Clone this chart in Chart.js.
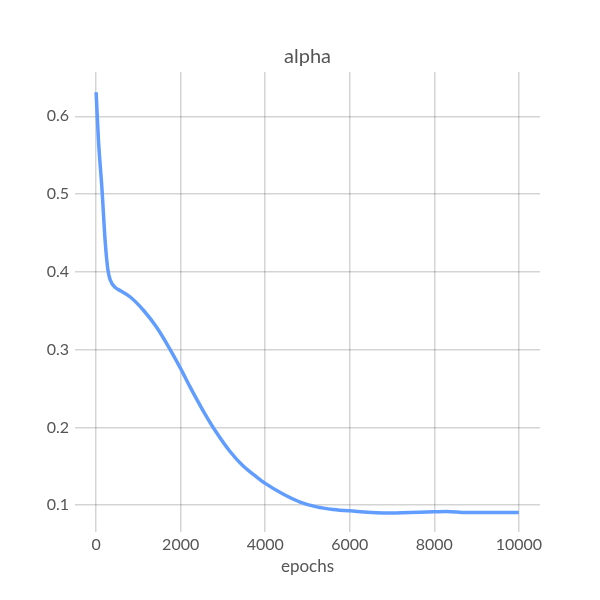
<!DOCTYPE html>
<html>
<head>
<meta charset="utf-8">
<script src="https://cdn.jsdelivr.net/npm/chart.js@4"></script>
<style>
  html, body { margin: 0; padding: 0; background: #fff; }
  #wrap { width: 600px; height: 600px; }
</style>
</head>
<body>
<div id="wrap"><canvas id="myChart" width="600" height="600"></canvas></div>
<script>
// alpha over training epochs
const epochs = [0, 55, 135, 213, 280, 338, 449, 565, 800, 1114, 1427, 1741, 2000, 2212, 2525, 2839, 3153, 3467, 3780, 4000, 4431, 4824, 5216, 5608, 6000, 6950, 7975, 8290, 8764, 10000];
const alpha = [0.631, 0.569, 0.509, 0.440, 0.402, 0.389, 0.380, 0.376, 0.368, 0.351, 0.329, 0.301, 0.2755, 0.253, 0.222, 0.194, 0.170, 0.151, 0.137, 0.128, 0.114, 0.104, 0.0978, 0.0945, 0.0927, 0.090, 0.0915, 0.092, 0.0905, 0.0905];
const xTicks = [0, 2000, 4000, 6000, 8000, 10000];
const yTicks = [0.1, 0.2, 0.3, 0.4, 0.5, 0.6];

const textColor = "#555555";
const gridColor = "rgba(0, 0, 0, 0.17)";
const fontFamily = "Lato, 'Noto Sans', sans-serif";

const points = epochs.map((e, i) => {
  return { x: e, y: alpha[i] };
});

const data = {
  datasets: [
    {
      label: "alpha",
      data: points,
      borderColor: "#619CFF",
      borderWidth: 3.5,
      pointRadius: 0,
      cubicInterpolationMode: "monotone",
      fill: false,
    },
  ],
};

// center the title over the plot area, not the whole canvas
const centerTitle = {
  id: "centerTitle",
  beforeDraw(chart) {
    chart.titleBlock.left = chart.chartArea.left;
    chart.titleBlock.right = chart.chartArea.right;
  },
};

const config = {
  type: "line",
  data,
  plugins: [centerTitle],
  options: {
    responsive: false,
    animation: false,
    layout: { padding: { left: 0, right: 60, top: 0, bottom: 23 } },
    plugins: {
      legend: { display: false },
      tooltip: { enabled: false },
      title: {
        display: true,
        text: "alpha",
        color: textColor,
        font: { family: fontFamily, size: 20, weight: "normal" },
        padding: { top: 45, bottom: 3 },
      },
    },
    scales: {
      x: {
        type: "linear",
        min: -500,
        max: 10500,
        afterBuildTicks: (axis) => {
          axis.ticks = xTicks.map((v) => ({ value: v }));
        },
        grid: { color: gridColor, lineWidth: 1.5, drawTicks: false },
        border: { display: false },
        ticks: {
          color: textColor,
          font: { family: fontFamily, size: 16 },
          padding: 3,
          maxRotation: 0,
          callback: (v) => String(v),
        },
        title: {
          display: true,
          text: "epochs",
          color: textColor,
          font: { family: fontFamily, size: 17 },
          padding: { top: -1, bottom: 0 },
        },
      },
      y: {
        min: 0.065,
        max: 0.657,
        afterBuildTicks: (axis) => {
          axis.ticks = yTicks.map((v) => ({ value: v }));
        },
        afterFit: (axis) => {
          axis.width = 75;
        },
        grid: { color: gridColor, lineWidth: 1.5, drawTicks: false },
        border: { display: false },
        ticks: {
          color: textColor,
          font: { family: fontFamily, size: 16 },
          padding: 6,
          callback: (v) => String(v),
        },
      },
    },
  },
};

const myChart = new Chart(document.getElementById("myChart"), config);
</script>
</body>
</html>
